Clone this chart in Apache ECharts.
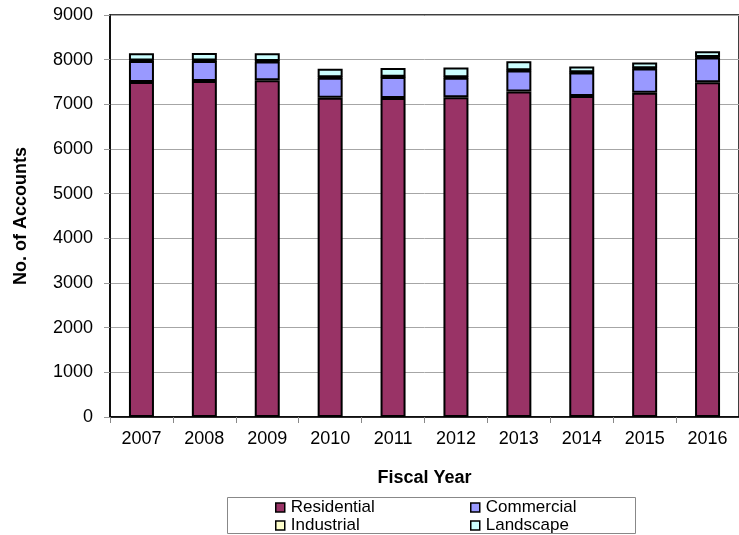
<!DOCTYPE html>
<html><head><meta charset="utf-8">
<script src="https://cdn.jsdelivr.net/npm/echarts@6/dist/echarts.min.js"></script>
<style>html,body{margin:0;padding:0;background:#fff;}#c{width:739px;height:535px;}</style>
</head><body><div id="c"></div>
<script>
const categories = ['2007','2008','2009','2010','2011','2012','2013','2014','2015','2016'];
const residential = [7500, 7520, 7540, 7150, 7140, 7160, 7290, 7185, 7260, 7495];
const commercial  = [470, 450, 420, 445, 470, 435, 465, 525, 540, 555];
const industrial  = [10, 10, 10, 10, 10, 10, 10, 10, 10, 10];
const landscape   = [165, 170, 175, 190, 195, 220, 200, 125, 125, 130];
const yTicks = [0, 1000, 2000, 3000, 4000, 5000, 6000, 7000, 8000, 9000];

const font = 'Liberation Sans, Arial, sans-serif';
const chart = echarts.init(document.getElementById('c'));
function s(name, data, color) {
  return {
    name, type: 'bar', stack: 'all', data, barWidth: 25,
    itemStyle: { color, borderColor: '#000', borderWidth: 2 },
    emphasis: { disabled: true }
  };
}
const legendCommon = {
  orient: 'vertical', itemWidth: 9, itemHeight: 9, itemGap: 1,
  icon: 'rect',
  textStyle: { fontFamily: font, fontSize: 17, color: '#000', padding: [0,0,0,1] },
  itemStyle: { borderColor: '#000', borderWidth: 1.5 },
  padding: 0
};
chart.setOption({
  animation: false,
  grid: { left: 110, top: 15, right: -9, bottom: 118, show: true, borderColor: '#000', borderWidth: 1.5 },
  xAxis: {
    type: 'category', data: categories,
    name: 'Fiscal Year', nameLocation: 'middle', nameGap: 52,
    nameTextStyle: { fontFamily: font, fontSize: 18, fontWeight: 'bold', color: '#000' },
    axisLine: { lineStyle: { color: '#000', width: 1.5 } },
    axisTick: { show: true, length: 6, lineStyle: { color: '#888' } },
    axisLabel: { fontFamily: font, fontSize: 18, color: '#000', margin: 13 }
  },
  yAxis: {
    type: 'value', min: yTicks[0], max: yTicks[yTicks.length-1], interval: 1000,
    name: 'No. of Accounts', nameLocation: 'middle', nameGap: 80,
    nameTextStyle: { fontFamily: font, fontSize: 18, fontWeight: 'bold', color: '#000' },
    axisLine: { show: true, lineStyle: { color: '#000', width: 1.5 } },
    axisTick: { show: true, length: 6, lineStyle: { color: '#999' } },
    axisLabel: { fontFamily: font, fontSize: 18, color: '#000', margin: 17, formatter: v => String(v) },
    splitLine: { lineStyle: { color: '#a6a6a6', width: 1 } }
  },
  legend: [
    Object.assign({}, legendCommon, { left: 275, top: 499, data: ['Residential', 'Industrial'] }),
    Object.assign({}, legendCommon, { left: 470, top: 499, data: ['Commercial', 'Landscape'] })
  ],
  graphic: [{
    type: 'rect', shape: { x: 227.5, y: 497.5, width: 408, height: 36 },
    style: { fill: 'none', stroke: '#888', lineWidth: 1 }, silent: true, z: -1
  }],
  series: [
    s('Residential', residential, '#993366'),
    s('Commercial', commercial, '#9999FF'),
    s('Industrial', industrial, '#FFFFCC'),
    s('Landscape', landscape, '#CCFFFF')
  ]
});
</script></body></html>
